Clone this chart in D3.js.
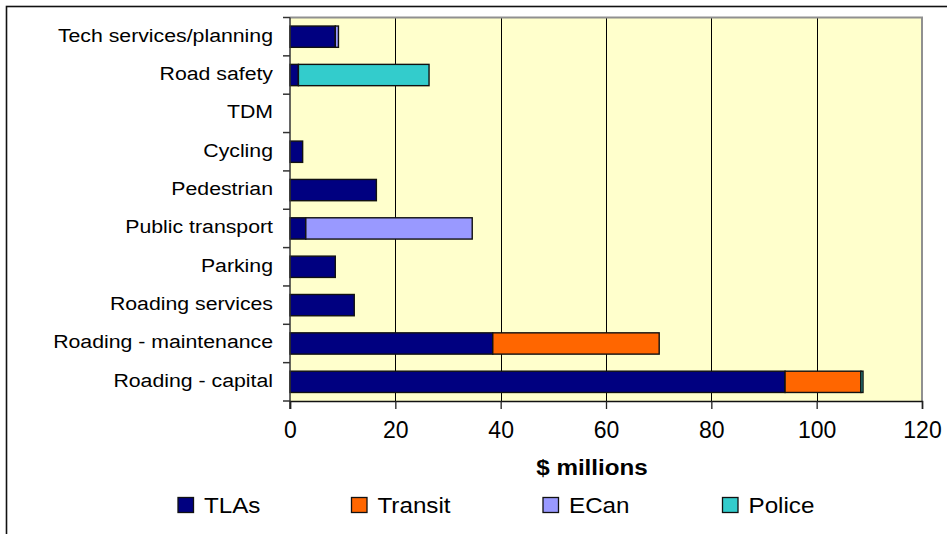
<!DOCTYPE html>
<html>
<head>
<meta charset="utf-8">
<script src="https://cdn.jsdelivr.net/npm/d3@7"></script>
<style>
  html, body { margin: 0; padding: 0; background: #fff; }
  svg { display: block; font-family: "Liberation Sans", Arial, sans-serif; }
</style>
</head>
<body>
<svg id="chart" width="947" height="534"></svg>
<script>
const categories = ["Tech services/planning", "Road safety", "TDM", "Cycling", "Pedestrian",
  "Public transport", "Parking", "Roading services", "Roading - maintenance", "Roading - capital"];
const seriesNames = ["TLAs", "Transit", "ECan", "Police"];
const tlas    = [8.6, 1.6, 0, 2.4, 16.4, 3.0, 8.6, 12.2, 38.5, 94.0];
const transit = [0, 0, 0, 0, 0, 0, 0, 0, 31.6, 14.4];
const ecan    = [0.6, 0, 0, 0, 0, 31.6, 0, 0, 0, 0];
const police  = [0, 24.8, 0, 0, 0, 0, 0, 0, 0, 0.4];
const xTicks  = [0, 20, 40, 60, 80, 100, 120];
const xTitle  = "$ millions";
const colors  = ["#000080", "#FF6600", "#9999FF", "#33CCCC"];

const rows = categories.map((c, i) => ({ cat: c, TLAs: tlas[i], Transit: transit[i], ECan: ecan[i], Police: police[i] }));

const svg = d3.select("#chart");
const L = 290, R = 922, T = 17.5, B = 401;

const x = d3.scaleLinear().domain([0, 120]).range([L, R]);
const y = d3.scaleBand().domain(categories).range([T, B]).paddingInner(0.445).paddingOuter(0.2225);
const color = d3.scaleOrdinal().domain(seriesNames).range(colors);

// outer frame (clipped on right/bottom)
svg.append("rect").attr("x", 6.5).attr("y", 6.5).attr("width", 1200).attr("height", 1200)
  .attr("fill", "none").attr("stroke", "#111").attr("stroke-width", 1.6);

// plot background
svg.append("rect").attr("x", L).attr("y", T).attr("width", R - L).attr("height", B - T)
  .attr("fill", "#FFFFCC");

// gridlines
svg.append("g").selectAll("line").data(xTicks.filter(d => d > 0 && d < 120)).join("line")
  .attr("x1", d => Math.round(x(d)) + 0.5).attr("x2", d => Math.round(x(d)) + 0.5)
  .attr("y1", T).attr("y2", B).attr("stroke", "#000").attr("stroke-width", 1);

// plot border top/right
svg.append("path").attr("d", `M${L},${T}H${R}V${B}`).attr("fill", "none")
  .attr("stroke", "#909090").attr("stroke-width", 2);

// bars
const stack = d3.stack().keys(seriesNames)(rows);
svg.append("g").selectAll("g").data(stack).join("g")
  .attr("fill", d => color(d.key))
  .selectAll("rect").data(d => d.filter(s => s[1] - s[0] > 0)).join("rect")
  .attr("x", d => x(d[0])).attr("width", d => x(d[1]) - x(d[0]))
  .attr("y", d => y(d.data.cat)).attr("height", y.bandwidth())
  .attr("stroke", "#111").attr("stroke-width", 1.4);

// y axis
const yAxis = svg.append("g").attr("transform", `translate(${L},0)`);
yAxis.append("line").attr("x1", 0).attr("x2", 0).attr("y1", T).attr("y2", B + 8)
  .attr("stroke", "#333").attr("stroke-width", 1.5);
const bounds = categories.map(c => y(c) - y.step() * y.paddingInner() / 2).concat([B]);
yAxis.selectAll("line.tk").data(bounds).join("line").attr("class", "tk")
  .attr("x1", -7).attr("x2", 0).attr("y1", d => d).attr("y2", d => d)
  .attr("stroke", "#333").attr("stroke-width", 1.5);
yAxis.selectAll("text").data(categories).join("text")
  .attr("transform", d => `translate(-17,${y(d) + y.bandwidth() / 2 + 5}) scale(1.12,1)`)
  .attr("text-anchor", "end").attr("font-size", 19).attr("fill", "#000").text(d => d);

// x axis
const xAxis = svg.append("g").attr("transform", `translate(0,${B})`)
  .call(d3.axisBottom(x).tickValues(xTicks).tickSize(8).tickPadding(13).tickFormat(d3.format("d")));
xAxis.select(".domain").attr("stroke", "#111").attr("stroke-width", 1.5);
xAxis.selectAll(".tick line").attr("stroke", "#222").attr("stroke-width", 1.3);
xAxis.selectAll(".tick text").attr("font-size", 23).attr("fill", "#000")
  .attr("font-family", "Liberation Sans, Arial, sans-serif");

// x title
svg.append("text").attr("transform", `translate(${(L + R) / 2 - 14},475) scale(1.1,1)`)
  .attr("text-anchor", "middle").attr("font-weight", "bold").attr("font-size", 22)
  .text(xTitle);

// legend
const legX = [178, 351.5, 543, 722.5];
const leg = svg.append("g").selectAll("g").data(seriesNames).join("g")
  .attr("transform", (d, i) => `translate(${legX[i]},497.5)`);
leg.append("rect").attr("width", 15.5).attr("height", 15)
  .attr("fill", d => color(d)).attr("stroke", "#111").attr("stroke-width", 1.3);
leg.append("text").attr("transform", "translate(26,15) scale(1.1,1)")
  .attr("font-size", 22).attr("fill", "#000").text(d => d);
</script>
</body>
</html>
